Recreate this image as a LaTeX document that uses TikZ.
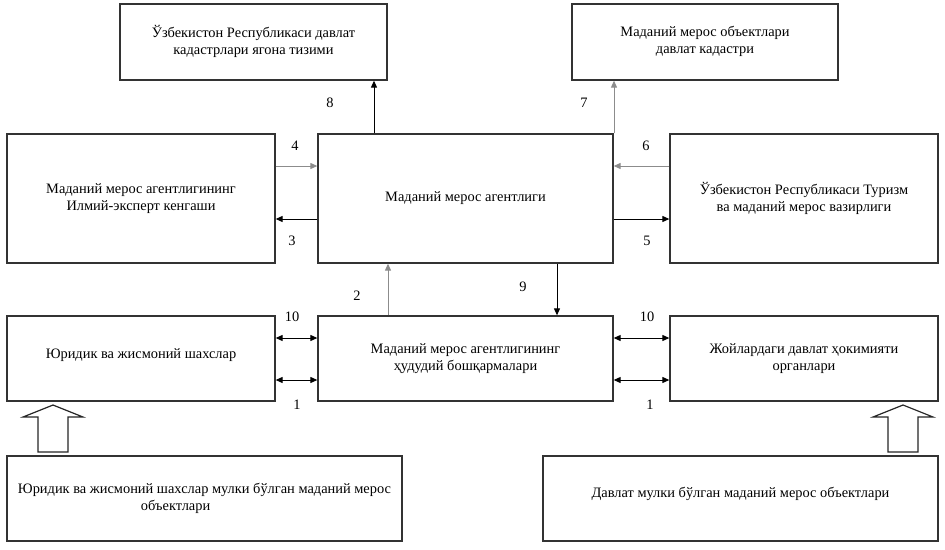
\documentclass[tikz,border=0pt]{standalone}
\usepackage{fontspec}
\setmainfont{Liberation Serif}
\usetikzlibrary{arrows.meta}
\begin{document}
\begin{tikzpicture}[x=1pt,y=-1pt,
  box/.style={draw=black!80,line width=1.3pt,rectangle,inner sep=0pt,align=center,font=\fontsize{14.4}{17}\selectfont},
  arr/.style={line width=1pt,-{Triangle[length=7pt,width=6pt]}},
  darr/.style={line width=1pt,{Triangle[length=7pt,width=6pt]}-{Triangle[length=7pt,width=6pt]}},
  garr/.style={arr,draw=black!45},
  num/.style={font=\fontsize{14.4}{17}\selectfont,inner sep=0pt},
  hollow/.style={draw=black!85,line width=1.2pt,fill=white}]
\useasboundingbox (0,0) rectangle (945,549);
\node[box,minimum width=267pt,minimum height=76pt] (tl) at (253.5,42) {\raisebox{-2pt}{\begin{tabular}{@{}c@{}}Ўзбекистон Республикаси давлат\\кадастрлари ягона тизими\end{tabular}}};
\node[box,minimum width=266pt,minimum height=76pt] (tr) at (705,42) {\raisebox{-2pt}{\begin{tabular}{@{}c@{}}Маданий мерос объектлари\\давлат кадастри\end{tabular}}};
\node[box,minimum width=268pt,minimum height=129pt] (lm) at (141,198.5) {Маданий мерос агентлигининг\\Илмий-эксперт кенгаши};
\node[box,minimum width=295pt,minimum height=129pt] (c) at (465.5,198.5) {Маданий мерос агентлиги};
\node[box,minimum width=268pt,minimum height=129pt] (rm) at (804,198.5) {Ўзбекистон Республикаси Туризм\\ва маданий мерос вазирлиги};
\node[box,minimum width=268pt,minimum height=85pt] (bl) at (141,358.5) {\raisebox{9pt}{Юридик ва жисмоний шахслар}};
\node[box,minimum width=295pt,minimum height=85pt] (bc) at (465.5,358.5) {Маданий мерос агентлигининг\\ҳудудий бошқармалари};
\node[box,minimum width=268pt,minimum height=85pt] (br) at (804,358.5) {Жойлардаги давлат ҳокимияти\\органлари};
\node[box,minimum width=395pt,minimum height=85pt] (bbl) at (204.5,498.5) {\raisebox{3pt}{\begin{tabular}{@{}l@{}}Юридик ва жисмоний шахслар мулки бўлган маданий мерос\\\hspace*{123pt}объектлари\end{tabular}}};
\node[box,minimum width=395pt,minimum height=85pt] (bbr) at (740.5,498.5) {\raisebox{12pt}{Давлат мулки бўлган маданий мерос объектлари}};
% helper coordinates
\coordinate (y4) at (0,166);
\coordinate (y3) at (0,219);
\coordinate (y10) at (0,338);
\coordinate (y1) at (0,380);
\coordinate (x8) at (374,0);
\coordinate (x7) at (614,0);
\coordinate (x2) at (388,0);
\coordinate (x9) at (557,0);
% connectors
\draw[garr] (lm.east |- y4) -- (c.west |- y4);
\draw[arr] (c.west |- y3) -- (lm.east |- y3);
\draw[garr] (rm.west |- y4) -- (c.east |- y4);
\draw[arr] (c.east |- y3) -- (rm.west |- y3);
\draw[arr] (c.north -| x8) -- (tl.south -| x8);
\draw[garr] (c.north -| x7) -- (tr.south -| x7);
\draw[garr] (bc.north -| x2) -- (c.south -| x2);
\draw[arr] (c.south -| x9) -- (bc.north -| x9);
\draw[darr] (bl.east |- y10) -- (bc.west |- y10);
\draw[darr] (bl.east |- y1) -- (bc.west |- y1);
\draw[darr] (bc.east |- y10) -- (br.west |- y10);
\draw[darr] (bc.east |- y1) -- (br.west |- y1);
% labels
\node[num] (n4) at (295,146) {4};
\node[num] (n3) at (292,241) {3};
\node[num] (n6) at (646,146) {6};
\node[num] (n5) at (647,241) {5};
\node[num] (n8) at (330,103) {8};
\node[num] (n7) at (584,103) {7};
\node[num] (n2) at (357,296) {2};
\node[num] (n9) at (523,287) {9};
\node[num] (n10a) at (292,317) {10};
\node[num] (n1a) at (297,405) {1};
\node[num] (n10b) at (647,317) {10};
\node[num] (n1b) at (650,405) {1};
% hollow arrows
\draw[hollow] (38,452) -- (38,417) -- (23,417) -- (53,405) -- (83,417) -- (68,417) -- (68,452) -- cycle;
\draw[hollow] (888,452) -- (888,417) -- (873,417) -- (903,405) -- (933,417) -- (918,417) -- (918,452) -- cycle;
\end{tikzpicture}
\end{document}
